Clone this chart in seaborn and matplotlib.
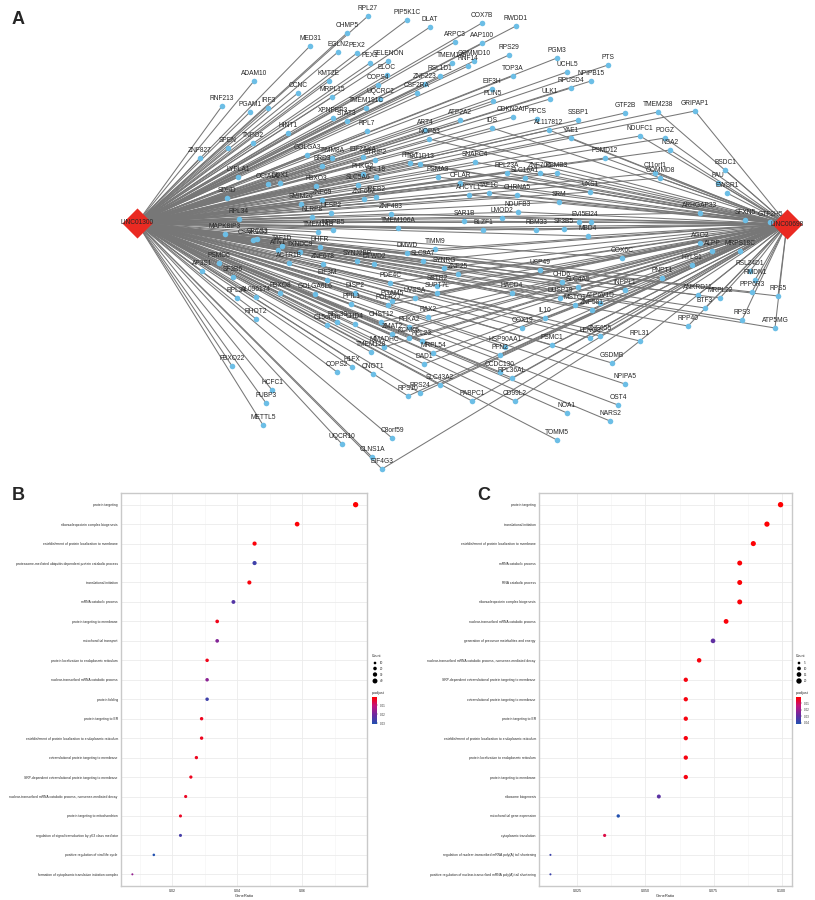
import numpy as np
import pandas as pd
import matplotlib
matplotlib.use('Agg')
import matplotlib.pyplot as plt
from matplotlib.collections import LineCollection
from matplotlib.colors import LinearSegmentedColormap, Normalize
from matplotlib.cm import ScalarMappable
import seaborn as sns

sns.set_style('white')
plt.rcParams['font.family'] = ['Liberation Sans', 'DejaVu Sans']

# ---------------- panel A : lncRNA - mRNA co-expression network ----------------
hubs = ['LINC01300', 'LINC00698']

# genes linked to LINC01300 only
genes_left = ['RPL27', 'PIP5K1C', 'DLAT', 'CHMP5', 'MED31', 'EGLN2', 'PEX2', 'PEX1', 'SELENON',
              'ADAM10', 'KMT2E', 'ELOC', 'COPS4', 'CCNC', 'MRPL15', 'UQCRC2', 'RNF213', 'PGAM1',
              'IRF3', 'TMEM191C', 'XPNPEP3', 'STAT3', 'ZNF223', 'CSF2RA', 'RSL1D1', 'TMEM175',
              'HINT1', 'RPL7', 'SPEN', 'TNPO2', 'ZNF827', 'GOLGA3', 'TIMM8A', 'EIF2AK4', 'STRIP2',
              'BRD3', 'PHKG2', 'RPL18', 'LYPLA1', 'OCIAD1', 'DDX1', 'FBXO3', 'SLC5A6', 'SDHD',
              'ZNF69', 'SMIM26', 'ZNF652', 'IREB2', 'NLRP8', 'UFSP2', 'RPL34', 'TMEM14B', 'NPIPB5',
              'MAPK8IP3', 'CSNK1G2',
              'COX7B', 'RWDD1', 'ARPC3', 'AAP100', 'RPS29', 'PGM3', 'COMMD10', 'RNF14', 'PTS',
              'TOP3A', 'UCHL5', 'NPIPB15', 'RPUSD4', 'EIF3H', 'ULK1', 'PLIN5', 'GTF2B', 'CDKN2AIP',
              'ATP2A2', 'PPCS', 'SSBP1',
              'SPCS3', 'ATN1', 'TAF1D', 'TXNDC9', 'DHFR', 'ACTR1B', 'ZNF678', 'SYNJ2BP', 'DTWD2',
              'PSMD6', 'AP3S1', 'SF3B6', 'EIF3M', 'RPL24', 'AL096174', 'FBXO8', 'GOLGA6L6', 'DISP2',
              'PPIL1', 'RHOT2', 'RPL39', 'C15orf40', 'CHD4', 'TMEM128', 'FBXO22', 'HCFC1', 'H1FX',
              'COPS2', 'CNOT1', 'FUBP3', 'METTL5', 'UQCR10', 'C8orf59', 'CLNS1A',
              'NOA1', 'TOMM5', 'NARS2', 'OST4', 'NPIPA5', 'RPL31']

# genes linked to LINC00698 only
genes_right = ['BSDC1', 'FAU', 'EWSR1', 'SFXN5', 'GTF2H5', 'ALPP', 'MRPS18C', 'AGO2', 'HYLS1',
               'RSL24D1', 'RMDN1']

# genes linked to both lncRNAs
genes_both = ['ART4', 'NOP53', 'FPGT', 'TBC1D13', 'PSMA3', 'ZNF483', 'TMEM106A', 'TMEM238',
              'GRIPAP1', 'AL117812', 'YAE1', 'IDS', 'NDUFC1', 'POGZ', 'NSA2', 'PSMD12', 'SNAPC4',
              'C11orf1', 'COMMD8', 'RPL23A', 'ZNF706', 'PSMB3', 'SLC16A1', 'CFLAR', 'AHCYL1',
              'TAF1C', 'CHRNA5', 'UXS1', 'SRM', 'NDUFB3', 'ARHGAP33', 'LMOD2', 'SAR1B', 'EVI5',
              'EI24', 'SF3B5', 'RBM33', 'BLZF1', 'MBD4', 'COX6C', 'USP49', 'ZNF25', 'CHD6',
              'SLC4A5', 'PNPT1', 'INPPL1', 'HACD4', 'DUSP19', 'MSTO1', 'ATP6V1D', 'ZNF581',
              'MRPL22', 'PPP6R3', 'RPS5', 'IL10', 'COX19', 'ANKRD11', 'ZNF655', 'LENG8', 'BTF3',
              'PSMC1', 'HSP90AA1', 'PFN2', 'RPS3', 'ATP5MG', 'RPP40', 'GSDMB', 'CCDC130',
              'RPL36AL', 'CD99L2', 'DMWD', 'TIMM9', 'SLC9A7', 'SYNRG', 'PDE4C', 'SSTR2', 'SUPT7L',
              'POLR2J', 'PGAM5', 'UVSSA', 'CHST12', 'PHKA2', 'RAX2', 'ZMAT2', 'KCNK6', 'RPL23',
              'MMADHC', 'MRPL54', 'DAD1', 'SLC43A2', 'RPS10', 'RPS24', 'PABPC1', 'EIF4G3']

# network layout (as exported from the layout tool, in pixels)
layout = {
    'LINC01300': (137, 223), 'LINC00698': (787, 224),
    'RPL27': (368, 16), 'PIP5K1C': (407, 20), 'DLAT': (430, 27), 'CHMP5': (347, 33),
    'MED31': (310, 46), 'EGLN2': (338, 52), 'PEX2': (357, 53), 'PEX1': (370, 63),
    'SELENON': (388, 61), 'ADAM10': (254, 81), 'KMT2E': (329, 81), 'ELOC': (387, 75),
    'COPS4': (378, 85), 'CCNC': (298, 93), 'MRPL15': (332, 97), 'UQCRC2': (380, 99),
    'RNF213': (222, 106), 'PGAM1': (250, 112), 'IRF3': (268, 108), 'TMEM191C': (366, 108),
    'XPNPEP3': (333, 118), 'STAT3': (347, 121), 'ZNF223': (425, 84), 'CSF2RA': (417, 93),
    'RSL1D1': (440, 76), 'TMEM175': (452, 63),
    'HINT1': (288, 133), 'RPL7': (367, 131), 'SPEN': (228, 148), 'TNPO2': (253, 143),
    'ZNF827': (200, 158), 'ART4': (425, 130), 'NOP53': (429, 139), 'GOLGA3': (307, 155),
    'TIMM8A': (332, 158), 'EIF2AK4': (363, 157), 'STRIP2': (375, 160), 'FPGT': (410, 163),
    'TBC1D13': (420, 164), 'BRD3': (322, 166), 'PHKG2': (363, 174), 'RPL18': (376, 177),
    'LYPLA1': (238, 177), 'OCIAD1': (268, 184), 'DDX1': (280, 183), 'FBXO3': (316, 186),
    'SLC5A6': (358, 185), 'PSMA3': (438, 177), 'SDHD': (227, 198), 'ZNF69': (322, 200),
    'SMIM26': (301, 204), 'ZNF652': (364, 199), 'IREB2': (376, 197), 'ZNF483': (391, 214),
    'NLRP8': (312, 217), 'UFSP2': (331, 213), 'RPL34': (239, 219), 'TMEM106A': (398, 228),
    'TMEM14B': (318, 232), 'NPIPB5': (333, 230), 'MAPK8IP3': (225, 234), 'CSNK1G2': (253, 240),
    'SPCS3': (257, 239), 'ATN1': (278, 250), 'TAF1D': (282, 246), 'TXNDC9': (300, 252),
    'DHFR': (320, 247), 'ACTR1B': (289, 263), 'ZNF678': (323, 264), 'SYNJ2BP': (357, 261),
    'DTWD2': (374, 264), 'DMWD': (407, 253), 'TIMM9': (435, 249), 'SLC9A7': (423, 261),
    'SYNRG': (444, 268), 'PSMD6': (219, 263), 'AP3S1': (202, 271), 'SF3B6': (233, 277),
    'EIF3M': (327, 280), 'PDE4C': (390, 283), 'SSTR2': (437, 286), 'SUPT7L': (437, 293),
    'RPL24': (237, 298), 'AL096174': (256, 297), 'FBXO8': (280, 293), 'GOLGA6L6': (315, 294),
    'DISP2': (355, 293), 'PPIL1': (351, 304), 'POLR2J': (388, 305), 'PGAM5': (392, 301),
    'UVSSA': (415, 298), 'RHOT2': (256, 319), 'RPL39': (337, 322), 'C15orf40': (327, 325),
    'CHD4': (355, 324), 'CHST12': (381, 322), 'PHKA2': (409, 327), 'RAX2': (428, 317),
    'ZMAT2': (392, 334), 'KCNK6': (409, 338), 'RPL23': (422, 341), 'MMADHC': (384, 347),
    'TMEM128': (371, 352), 'MRPL54': (433, 353), 'FBXO22': (232, 366), 'HCFC1': (272, 390),
    'H1FX': (352, 367), 'COPS2': (337, 372), 'CNOT1': (373, 374), 'DAD1': (424, 364),
    'FUBP3': (266, 403), 'SLC43A2': (440, 385), 'RPS10': (408, 396), 'RPS24': (420, 393),
    'PABPC1': (472, 401), 'METTL5': (263, 425), 'UQCR10': (342, 444), 'C8orf59': (392, 438),
    'CLNS1A': (372, 457), 'EIF4G3': (382, 469),
    'COX7B': (482, 23), 'RWDD1': (516, 26), 'ARPC3': (455, 42), 'AAP100': (482, 43),
    'RPS29': (509, 55), 'PGM3': (557, 58), 'COMMD10': (474, 61), 'RNF14': (468, 66),
    'PTS': (608, 65), 'TOP3A': (513, 76), 'UCHL5': (567, 72), 'NPIPB15': (591, 81),
    'RPUSD4': (571, 88), 'EIF3H': (492, 89), 'ULK1': (550, 99), 'PLIN5': (493, 101),
    'GTF2B': (625, 113), 'TMEM238': (658, 112), 'GRIPAP1': (695, 111), 'CDKN2AIP': (513, 117),
    'ATP2A2': (460, 120), 'PPCS': (537, 119), 'SSBP1': (578, 120), 'AL117812': (549, 130),
    'YAE1': (571, 138), 'IDS': (492, 128), 'NDUFC1': (640, 136), 'POGZ': (665, 138),
    'NSA2': (670, 150), 'PSMD12': (605, 158), 'SNAPC4': (475, 162), 'BSDC1': (725, 170),
    'C11orf1': (655, 173), 'COMMD8': (660, 178), 'FAU': (718, 183), 'EWSR1': (727, 193),
    'RPL23A': (507, 173), 'ZNF706': (540, 173), 'PSMB3': (557, 173), 'SLC16A1': (525, 178),
    'CFLAR': (460, 183), 'AHCYL1': (469, 195), 'TAF1C': (489, 193), 'CHRNA5': (517, 195),
    'UXS1': (590, 192), 'SRM': (559, 202), 'NDUFB3': (518, 212), 'ARHGAP33': (700, 213),
    'SFXN5': (745, 220), 'GTF2H5': (770, 222), 'LMOD2': (502, 218), 'SAR1B': (464, 221),
    'EVI5': (579, 222), 'EI24': (591, 222), 'SF3B5': (564, 229), 'RBM33': (536, 230),
    'BLZF1': (483, 230), 'MBD4': (588, 236),
    'COX6C': (622, 258), 'AGO2': (700, 243), 'ALPP': (712, 251), 'MRPS18C': (740, 251),
    'HYLS1': (692, 265), 'USP49': (540, 270), 'ZNF25': (458, 274), 'CHD6': (562, 282),
    'SLC4A5': (578, 287), 'PNPT1': (662, 278), 'RSL24D1': (750, 271), 'RMDN1': (755, 280),
    'INPPL1': (625, 290), 'HACD4': (512, 293), 'DUSP19': (560, 298), 'MSTO1': (575, 305),
    'ATP6V1D': (600, 303), 'ZNF581': (592, 310), 'MRPL22': (720, 298), 'PPP6R3': (752, 292),
    'RPS5': (778, 296), 'IL10': (545, 318), 'COX19': (522, 328), 'ANKRD11': (698, 295),
    'ZNF655': (600, 336), 'LENG8': (590, 338), 'BTF3': (705, 308), 'PSMC1': (552, 345),
    'HSP90AA1': (505, 347), 'PFN2': (500, 355), 'RPS3': (742, 320), 'ATP5MG': (775, 328),
    'RPP40': (688, 326), 'RPL31': (640, 341), 'GSDMB': (612, 363), 'CCDC130': (500, 372),
    'RPL36AL': (512, 378), 'NPIPA5': (625, 384), 'OST4': (618, 405), 'CD99L2': (515, 401),
    'NOA1': (567, 413), 'NARS2': (610, 421), 'TOMM5': (557, 440),
}

# ---------------- panel B / C : GO enrichment ----------------
go_b_terms = ['protein targeting', 'ribonucleoprotein complex biogenesis',
              'establishment of protein localization to membrane',
              'proteasome-mediated ubiquitin-dependent protein catabolic process',
              'translational initiation', 'mRNA catabolic process', 'protein targeting to membrane',
              'mitochondrial transport', 'protein localization to endoplasmic reticulum',
              'nuclear-transcribed mRNA catabolic process', 'protein folding', 'protein targeting to ER',
              'establishment of protein localization to endoplasmic reticulum',
              'cotranslational protein targeting to membrane',
              'SRP-dependent cotranslational protein targeting to membrane',
              'nuclear-transcribed mRNA catabolic process, nonsense-mediated decay',
              'protein targeting to mitochondrion',
              'regulation of signal transduction by p53 class mediator',
              'positive regulation of viral life cycle',
              'formation of cytoplasmic translation initiation complex']
go_b_ratio = [0.0765, 0.0585, 0.0454, 0.0454, 0.0438, 0.0389, 0.0339, 0.0339, 0.0308, 0.0308,
              0.0308, 0.0291, 0.0291, 0.0275, 0.0258, 0.0242, 0.0226, 0.0226, 0.0144, 0.0078]
go_b_count = [47, 36, 28, 28, 27, 24, 21, 21, 19, 19, 19, 18, 18, 17, 16, 15, 14, 14, 9, 5]
go_b_padj = [0.0012, 0.0015, 0.0018, 0.027, 0.0020, 0.024, 0.0030, 0.018, 0.0030, 0.017,
             0.027, 0.0035, 0.0035, 0.0035, 0.0035, 0.0040, 0.0040, 0.026, 0.031, 0.016]

go_c_terms = ['protein targeting', 'translational initiation',
              'establishment of protein localization to membrane', 'mRNA catabolic process',
              'RNA catabolic process', 'ribonucleoprotein complex biogenesis',
              'nuclear-transcribed mRNA catabolic process',
              'generation of precursor metabolites and energy',
              'nuclear-transcribed mRNA catabolic process, nonsense-mediated decay',
              'SRP-dependent cotranslational protein targeting to membrane',
              'cotranslational protein targeting to membrane', 'protein targeting to ER',
              'establishment of protein localization to endoplasmic reticulum',
              'protein localization to endoplasmic reticulum', 'protein targeting to membrane',
              'ribosome biogenesis', 'mitochondrial gene expression', 'cytoplasmic translation',
              'regulation of nuclear-transcribed mRNA poly(A) tail shortening',
              'positive regulation of nuclear-transcribed mRNA poly(A) tail shortening']
go_c_ratio = [0.0996, 0.0946, 0.0896, 0.0846, 0.0846, 0.0846, 0.0796, 0.0748, 0.0697, 0.0648,
              0.0648, 0.0648, 0.0648, 0.0648, 0.0648, 0.0549, 0.0400, 0.0350, 0.0151, 0.0151]
go_c_count = [20, 19, 18, 17, 17, 17, 16, 15, 14, 13, 13, 13, 13, 13, 13, 11, 8, 7, 3, 3]
go_c_padj = [0.0005, 0.0006, 0.0008, 0.0010, 0.0010, 0.0012, 0.0015, 0.030, 0.0018, 0.0020,
             0.0020, 0.0020, 0.0020, 0.0020, 0.0022, 0.031, 0.042, 0.008, 0.037, 0.037]

W, H = 815, 900
fig = plt.figure(figsize=(W / 100, H / 100), dpi=100)

# ---- network ----
A_H = 480
axA = fig.add_axes([0, 1 - A_H / H, 1, A_H / H])

segs = []
for g in genes_left + genes_both:
    segs.append([layout['LINC01300'], layout[g]])
for g in genes_right + genes_both:
    segs.append([layout['LINC00698'], layout[g]])
axA.add_collection(LineCollection(segs, colors='#777777', linewidths=0.75, zorder=1))

all_genes = genes_left + genes_right + genes_both
nodes = pd.DataFrame({'gene': all_genes,
                      'x': [layout[g][0] for g in all_genes],
                      'y': [layout[g][1] for g in all_genes]})
sns.scatterplot(data=nodes, x='x', y='y', color='#6cbee6', s=16, linewidth=0, ax=axA, zorder=3)
hub_df = pd.DataFrame({'gene': hubs, 'x': [layout[h][0] for h in hubs],
                       'y': [layout[h][1] for h in hubs]})
sns.scatterplot(data=hub_df, x='x', y='y', color='#ea2a22', marker='D', s=235, linewidth=0,
                ax=axA, zorder=4)
axA.set_xlim(0, W)
axA.set_ylim(A_H, 0)
axA.axis('off')
for _, r in nodes.iterrows():
    axA.text(r.x, r.y - 7.5, r.gene, fontsize=4.8, ha='center', va='center', zorder=5)
for _, r in hub_df.iterrows():
    axA.text(r.x, r.y, r.gene, fontsize=4.8, ha='center', va='center', zorder=6)

# ---- dot plots ----
cmap = LinearSegmentedColormap.from_list('padj', ['#ff0000', '#c0157f', '#6a2aa0', '#2251b0'])
SIZES = (2.2, 15)


def dot_area(c, snorm):
    return SIZES[0] + (SIZES[1] - SIZES[0]) * (c - snorm[0]) / (snorm[1] - snorm[0])


def dotplot(rect, terms, ratio, count, padj, hnorm, snorm, xlim, xticks, xticklabels, minor):
    ax = fig.add_axes(rect)
    df = pd.DataFrame({'Description': terms, 'GeneRatio': ratio, 'Count': count, 'p.adjust': padj})
    sns.scatterplot(data=df, x='GeneRatio', y='Description', hue='p.adjust', hue_norm=hnorm,
                    palette=cmap, size='Count', sizes=SIZES, size_norm=snorm, linewidth=0,
                    legend=False, ax=ax, zorder=3)
    ax.set_xlim(*xlim)
    ax.set_ylim(len(terms) - 0.4, -0.6)
    ax.set_xticks(xticks)
    ax.set_xticklabels(xticklabels)
    ax.set_xticks(minor, minor=True)
    ax.grid(which='major', color='#ebebeb', lw=0.6, zorder=0)
    ax.grid(which='minor', axis='x', color='#f3f3f3', lw=0.4, zorder=0)
    ax.set_axisbelow(True)
    ax.tick_params(axis='y', labelsize=2.4, length=1.3, width=0.4, color='#555555', pad=1)
    ax.tick_params(axis='x', which='major', labelsize=2.6, length=1.3, width=0.4,
                   color='#555555', pad=1)
    ax.tick_params(axis='x', which='minor', length=0)
    ax.set_xlabel('GeneRatio', fontsize=2.9, labelpad=0.6)
    ax.set_ylabel('')
    for s in ax.spines.values():
        s.set_color('#c9c9c9')
        s.set_linewidth(1.0)
    return ax


rectB = [121 / W, (H - 886) / H, 246 / W, 393 / H]
rectC = [539 / W, (H - 886) / H, 253 / W, 393 / H]
normB = (0.001, 0.031)
normC = (0.0002, 0.042)
dotplot(rectB, go_b_terms, go_b_ratio, go_b_count, go_b_padj, normB, (5, 48),
        (0.0043, 0.0800), [0.02, 0.04, 0.06], ['0.02', '0.04', '0.06'], [0.01, 0.03, 0.05, 0.07])
dotplot(rectC, go_c_terms, go_c_ratio, go_c_count, go_c_padj, normC, (3, 20),
        (0.0109, 0.1038), [0.025, 0.05, 0.075, 0.1], ['0.025', '0.050', '0.075', '0.100'],
        [0.0375, 0.0625, 0.0875])

# ---- legends and panel letters ----
lax = fig.add_axes([0, 0, 1, 1])
lax.set_xlim(0, W)
lax.set_ylim(H, 0)
lax.axis('off')


def legend(x0, counts, snorm, hnorm, ticks):
    lax.text(x0, 656, 'Count', fontsize=2.6, ha='left', va='center')
    ys = [663, 668.5, 674.5, 681]
    lax.scatter([x0 + 3] * len(counts), ys, s=[dot_area(c, snorm) for c in counts],
                color='black', linewidths=0)
    for c, y in zip(counts, ys):
        lax.text(x0 + 8, y, str(c), fontsize=2.2, ha='left', va='center')
    lax.text(x0, 693, 'p.adjust', fontsize=2.6, ha='left', va='center')
    cax = fig.add_axes([x0 / W, (H - 724) / H, 5 / W, 27 / H])
    cb = fig.colorbar(ScalarMappable(norm=Normalize(*hnorm), cmap=cmap), cax=cax)
    cax.invert_yaxis()
    cb.set_ticks(ticks)
    cb.set_ticklabels([f'{t:.2f}' for t in ticks])
    cb.outline.set_visible(False)
    cax.tick_params(labelsize=2.2, length=0.8, width=0.3, colors='#333333', pad=1)


legend(372, [10, 20, 30, 40], (5, 48), normB, [0.01, 0.02, 0.03])
legend(796, [5, 10, 15, 20], (3, 20), normC, [0.01, 0.02, 0.03, 0.04])

for letter, (x, y) in zip(['A', 'B', 'C'], [(18, 20), (18, 495), (484, 495)]):
    lax.text(x, y, letter, fontsize=13, fontweight='bold', ha='center', va='center')

fig.savefig('out.png', dpi=100)
